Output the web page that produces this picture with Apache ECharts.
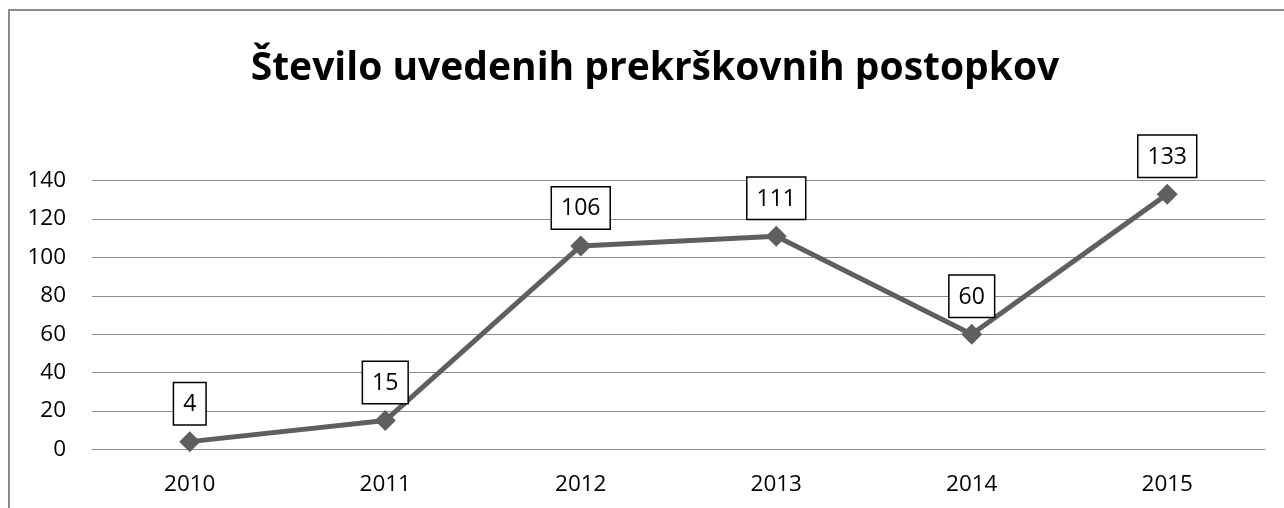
<!DOCTYPE html>
<html><head><meta charset="utf-8">
<script src="https://cdn.jsdelivr.net/npm/echarts@6/dist/echarts.min.js"></script>
<style>html,body{margin:0;padding:0;background:#fff}#c{width:1284px;height:508px}</style>
</head><body><div id="c"></div>
<script>
const titleText = 'Število uvedenih prekrškovnih postopkov';
const years = ['2010','2011','2012','2013','2014','2015'];
const values = [4, 15, 106, 111, 60, 133];
const yMin = 0, yMax = 140, yStep = 20;

const chart = echarts.init(document.getElementById('c'), null, {renderer:'canvas'});
chart.setOption({
  backgroundColor:'#fff',
  animation:false,
  title:{text:titleText,left:650,textAlign:'center',top:44,
    textStyle:{fontFamily:'Open Sans',fontWeight:'bold',fontSize:39,color:'#000'}},
  graphic:[{type:'rect',shape:{x:9,y:10,width:1400,height:700},
    style:{fill:'none',stroke:'#8a8a8a',lineWidth:2},silent:true}],
  grid:{left:92,right:19,top:180.7,bottom:58.7,containLabel:false},
  xAxis:{type:'category',data:years,boundaryGap:true,
    axisLine:{show:true,lineStyle:{color:'#8c8c8c',width:1}},
    axisTick:{show:false},
    axisLabel:{fontFamily:'Open Sans',fontSize:22.5,color:'#000',margin:24}},
  yAxis:{type:'value',min:yMin,max:yMax,interval:yStep,
    axisLine:{show:false},axisTick:{show:false},
    splitLine:{lineStyle:{color:'#8c8c8c',width:1}},
    axisLabel:{fontFamily:'Open Sans',fontSize:22.5,color:'#000',margin:26}},
  series:[{type:'line',data:values,symbol:'diamond',symbolSize:21,
    lineStyle:{color:'#5f5f5f',width:5},
    itemStyle:{color:'#5f5f5f'},
    label:{show:true,position:'top',distance:7,fontFamily:'Open Sans',fontSize:23,color:'#000',
      backgroundColor:'#fff',borderColor:'#000',borderWidth:1.5,padding:[8,9,6,9],lineHeight:27}}]
});
</script></body></html>
